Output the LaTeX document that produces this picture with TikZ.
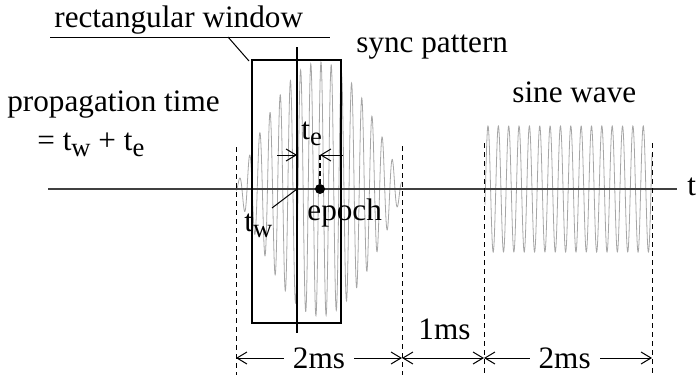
\documentclass[tikz,border=0pt]{standalone}
\usepackage{fontspec}
\setmainfont{Liberation Serif}
\usepackage{tikz}
\usetikzlibrary{arrows.meta}
\newcommand{\lowsub}[1]{\raisebox{-3pt}{\fontsize{13.3}{15}\selectfont #1}}

\begin{document}
\begin{tikzpicture}[x=0.5pt, y=-0.5pt,
  lbl/.style={font=\fontsize{15.6}{18}\selectfont, inner sep=0pt, anchor=base west},
  wave/.style={black!35, line width=0.4pt},
  axis/.style={black!75, line width=0.6pt},
  guide/.style={dash pattern=on 2.5pt off 2pt, line width=0.5pt},
  tip/.style={-{Straight Barb[length=5pt, width=6pt]}, line width=0.5pt},
  dim/.style={{Straight Barb[length=5pt, width=6pt]}-{Straight Barb[length=5pt, width=6pt]}, line width=0.5pt},
  dimlbl/.style={font=\fontsize{15.6}{18}\selectfont, fill=white, inner xsep=4.5pt, inner ysep=1pt}]
  \useasboundingbox (0,0) rectangle (697,375);
  % waveforms
  \draw[wave] plot[domain=236:402, samples=900] (\x, {189 - 127*cos((\x-320)/85*90)*cos((\x-321)/10.2*360)});
  \draw[wave] plot[domain=485:652, samples=900] (\x, {189 - 63*cos((\x-488)/10.35*360)});
  % time axis
  \coordinate (ax0) at (48,189);
  \coordinate (ax1) at (677,189);
  \draw[axis] (ax0) -- (ax1);
  \node[lbl] (tlbl) at (687,195) {t};
  % guide lines
  \coordinate (g1t) at (236,147); \coordinate (g1b) at (236,375);
  \coordinate (g2t) at (402,146); \coordinate (g2b) at (402,375);
  \coordinate (g3t) at (484,143); \coordinate (g3b) at (484,375);
  \coordinate (g4t) at (652,143); \coordinate (g4b) at (652,375);
  \draw[guide] (g1t) -- (g1b);
  \draw[guide] (g2t) -- (g2b);
  \draw[guide] (g3t) -- (g3b);
  \draw[guide] (g4t) -- (g4b);
  % window and markers
  \node[draw, line width=0.6pt, inner sep=0pt, minimum width=44.5pt, minimum height=131.5pt] (win) at (296.5,191.5) {};
  \coordinate (mtop) at (297,47);
  \coordinate (mbot) at (297,333);
  \draw[line width=0.6pt] (mtop) -- (mbot);
  \node[circle, fill, inner sep=0pt, minimum size=5pt] (ep) at (320,189) {};
  \coordinate (eptop) at (320,153);
  \draw[dash pattern=on 2.5pt off 1.5pt, line width=0.6pt] (ep) -- (eptop);
  \coordinate (ta) at (277,155); \coordinate (tb) at (297,155);
  \coordinate (tc) at (343,155); \coordinate (td) at (320,155);
  \draw[tip] (ta) -- (tb);
  \draw[tip] (tc) -- (td);
  \node[lbl] (te) at (301,139) {t\lowsub{e}};
  \node[lbl] (tw) at (244,231) {t\lowsub{w}};
  \coordinate (twend) at (272,208);
  \draw[line width=0.5pt] (ep -| mtop) -- (twend);
  \node[lbl] (epoch) at (307,220) {epoch};
  % labels
  \node[lbl] (win lbl) at (54,27) {rectangular window};
  \coordinate (ul0) at (50,37); \coordinate (ul1) at (330,37);
  \coordinate (ulk) at (228,37); \coordinate (winend) at (249,61);
  \draw[line width=0.5pt] (ul0) -- (ul1);
  \draw[line width=0.5pt] (ulk) -- (winend);
  \node[lbl] (sync) at (356,53) {sync pattern};
  \node[lbl] (prop) at (7,111) {propagation time};
  \node[lbl] (sum) at (37,150) {= t\lowsub{w} + t\lowsub{e}};
  \node[lbl] (sine) at (512,102) {sine wave};
  % durations
  \coordinate (d0) at (236,358); \coordinate (d1) at (402,358);
  \coordinate (d2) at (484,358); \coordinate (d3) at (652,358);
  \draw[dim] (d0) -- (d1) node[dimlbl, midway] (dur1) {2ms};
  \draw[dim] (d1) -- (d2);
  \node[lbl] (dur2) at (418,339) {1ms};
  \draw[dim] (d2) -- (d3) node[dimlbl, pos=0.48] (dur3) {2ms};
\end{tikzpicture}
\end{document}
